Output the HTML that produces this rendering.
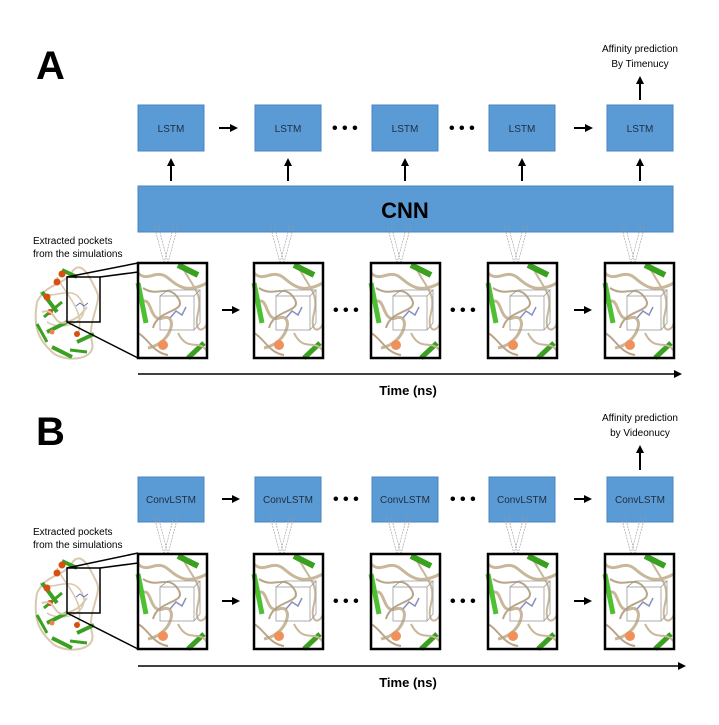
<!DOCTYPE html>
<html><head><meta charset="utf-8"><style>
html,body{margin:0;padding:0;background:#fff}
svg{display:block}
text{font-family:"Liberation Sans",sans-serif}
</style></head><body>
<svg width="719" height="725" viewBox="0 0 719 725" xmlns="http://www.w3.org/2000/svg">
<defs>
<marker id="ah" markerWidth="8" markerHeight="8" refX="6" refY="4" orient="auto" markerUnits="userSpaceOnUse"><path d="M0,0 L8,4 L0,8 z" fill="#000"/></marker>
<g id="frame">
  <rect x="0" y="0" width="69" height="95" fill="#fff"/>
  <path d="M0,10 C10,20 18,5 30,15 S50,30 69,20" stroke="#c9b79a" stroke-width="3" fill="none"/>
  <path d="M2,40 C15,30 10,60 25,55 S35,80 10,85" stroke="#c9b79a" stroke-width="3" fill="none"/>
  <path d="M5,25 C20,35 30,20 40,35 S20,45 15,65" stroke="#b8a588" stroke-width="2" fill="none"/>
  <path d="M45,5 C55,25 65,30 60,50 S66,70 69,60" stroke="#c9b79a" stroke-width="2" fill="none"/>
  <path d="M0,70 C10,75 15,90 30,92" stroke="#b8a588" stroke-width="2" fill="none"/>
  <path d="M40,2 L60,12" stroke="#3aa020" stroke-width="6"/>
  <path d="M0,20 L8,60" stroke="#4cc030" stroke-width="5"/>
  <path d="M50,95 L66,80" stroke="#3aa020" stroke-width="5"/>
  <circle cx="25" cy="82" r="5" fill="#f0905a"/>
  <path d="M40,70 C50,90 60,75 69,88" stroke="#c9b79a" stroke-width="2" fill="none"/>
  <rect x="22" y="33" width="34" height="34" fill="none" stroke="#999" stroke-width="0.8"/>
  <path d="M22,33 L30,27 L62,27 L56,33 M62,27 L62,60 L56,67" fill="none" stroke="#999" stroke-width="0.8"/>
  <path d="M32,55 L38,48 L44,52 L48,44" stroke="#8890c0" stroke-width="1.5" fill="none"/>
  <rect x="0" y="0" width="69" height="95" fill="none" stroke="#000" stroke-width="2.5"/>
</g>
<g id="prot">
  <path d="M5,40 C15,20 30,25 40,10 S60,20 65,30 S55,60 60,80 S30,100 20,90 S0,70 5,40" stroke="#d8c8ae" stroke-width="2" fill="none"/>
  <path d="M8,30 C20,40 40,20 50,40 S30,70 15,60 M25,15 C35,35 55,50 45,75" stroke="#d8c8ae" stroke-width="1.5" fill="none"/>
  <path d="M10,30 L25,50 M15,70 L35,60 M45,80 L62,72 M20,85 L40,95 M30,8 L45,15" stroke="#3aa020" stroke-width="4"/>
  <path d="M12,55 L30,40 M38,88 L55,90 M5,62 L15,80" stroke="#3aa020" stroke-width="3"/>
  <circle cx="30" cy="12" r="3.5" fill="#d85010"/><circle cx="15" cy="35" r="3.5" fill="#d85010"/>
  <circle cx="25" cy="20" r="3.5" fill="#d85010"/><circle cx="45" cy="72" r="3" fill="#d85010"/>
  <circle cx="20" cy="70" r="2.5" fill="#f08050"/><circle cx="18" cy="50" r="3" fill="#d85010"/>
  <path d="M44,44 l4,-3 l4,3 l4,-3" stroke="#6070c0" stroke-width="1" fill="none"/>
  <path d="M10,50 C25,45 20,65 35,60 S50,50 55,45" stroke="#d8c8ae" stroke-width="2" fill="none"/>
</g>
<g id="tri"><path d="M26,0 L16,-38 M26,0 L36,-38 M30,0 L20,-38 M30,0 L40,-38" stroke="#999" stroke-width="0.6" stroke-dasharray="2,1" fill="none"/></g>
</defs>

<!-- A -->
<text x="36" y="79" font-size="40" font-weight="bold">A</text>
<text x="640" y="52" font-size="10" text-anchor="middle">Affinity prediction</text>
<text x="640" y="67" font-size="10" text-anchor="middle">By Timenucy</text>
<line x1="640" y1="100" x2="640" y2="78" stroke="#000" stroke-width="2" marker-end="url(#ah)"/>
<g fill="#5b9bd5" stroke="#4a86c0" stroke-width="1">
<rect x="138" y="105" width="66" height="46"/><rect x="255" y="105" width="66" height="46"/><rect x="372" y="105" width="66" height="46"/><rect x="489" y="105" width="66" height="46"/><rect x="607" y="105" width="66" height="46"/>
<rect x="138" y="186" width="535" height="46"/>
</g>
<g font-size="10" text-anchor="middle" fill="#1f2d3d">
<text x="171" y="132">LSTM</text><text x="288" y="132">LSTM</text><text x="405" y="132">LSTM</text><text x="522" y="132">LSTM</text><text x="640" y="132">LSTM</text>
</g>
<text x="405" y="218" font-size="22" font-weight="bold" text-anchor="middle">CNN</text>
<g stroke="#000" stroke-width="2">
<line x1="219" y1="128" x2="236" y2="128" marker-end="url(#ah)"/>
<line x1="574" y1="128" x2="591" y2="128" marker-end="url(#ah)"/>
<line x1="171" y1="181" x2="171" y2="160" marker-end="url(#ah)"/>
<line x1="288" y1="181" x2="288" y2="160" marker-end="url(#ah)"/>
<line x1="405" y1="181" x2="405" y2="160" marker-end="url(#ah)"/>
<line x1="522" y1="181" x2="522" y2="160" marker-end="url(#ah)"/>
<line x1="640" y1="181" x2="640" y2="160" marker-end="url(#ah)"/>
</g>
<g font-size="16" font-weight="bold"><text x="332" y="133">• • •</text><text x="449" y="133">• • •</text></g>

<text x="33" y="244" font-size="10">Extracted pockets</text>
<text x="33" y="257" font-size="10">from the simulations</text>
<use href="#prot" x="32" y="262"/>
<rect x="67" y="277" width="33" height="45" fill="none" stroke="#000" stroke-width="1.5"/>
<path d="M67,277 L138,263 M100,277 L138,272 M67,322 L138,358" stroke="#000" stroke-width="1.5"/>
<g transform="translate(138,263)"><use href="#tri"/><use href="#frame"/></g>
<g transform="translate(254,263)"><use href="#tri"/><use href="#frame"/></g>
<g transform="translate(371,263)"><use href="#tri"/><use href="#frame"/></g>
<g transform="translate(488,263)"><use href="#tri"/><use href="#frame"/></g>
<g transform="translate(605,263)"><use href="#tri"/><use href="#frame"/></g>
<g stroke="#000" stroke-width="2">
<line x1="222" y1="310" x2="238" y2="310" marker-end="url(#ah)"/>
<line x1="574" y1="310" x2="590" y2="310" marker-end="url(#ah)"/>
<line x1="138" y1="374" x2="680" y2="374" stroke-width="1.5" marker-end="url(#ah)"/>
</g>
<g font-size="16" font-weight="bold"><text x="333" y="315">• • •</text><text x="450" y="315">• • •</text></g>
<text x="408" y="395" font-size="13" font-weight="bold" text-anchor="middle">Time (ns)</text>

<!-- B -->
<text x="36" y="445" font-size="40" font-weight="bold">B</text>
<text x="640" y="421" font-size="10" text-anchor="middle">Affinity prediction</text>
<text x="640" y="436" font-size="10" text-anchor="middle">by Videonucy</text>
<line x1="640" y1="470" x2="640" y2="447" stroke="#000" stroke-width="2" marker-end="url(#ah)"/>
<g fill="#5b9bd5" stroke="#4a86c0" stroke-width="1">
<rect x="138" y="477" width="66" height="45"/><rect x="255" y="477" width="66" height="45"/><rect x="372" y="477" width="66" height="45"/><rect x="489" y="477" width="66" height="45"/><rect x="607" y="477" width="66" height="45"/>
</g>
<g font-size="10" text-anchor="middle" fill="#1f2d3d">
<text x="171" y="503">ConvLSTM</text><text x="288" y="503">ConvLSTM</text><text x="405" y="503">ConvLSTM</text><text x="522" y="503">ConvLSTM</text><text x="640" y="503">ConvLSTM</text>
</g>
<g stroke="#000" stroke-width="2">
<line x1="222" y1="499" x2="238" y2="499" marker-end="url(#ah)"/>
<line x1="574" y1="499" x2="590" y2="499" marker-end="url(#ah)"/>
</g>
<g font-size="16" font-weight="bold"><text x="333" y="504">• • •</text><text x="450" y="504">• • •</text></g>

<text x="33" y="535" font-size="10">Extracted pockets</text>
<text x="33" y="548" font-size="10">from the simulations</text>
<use href="#prot" x="32" y="553"/>
<rect x="67" y="568" width="33" height="45" fill="none" stroke="#000" stroke-width="1.5"/>
<path d="M67,568 L138,553 M100,568 L138,563 M67,613 L138,649" stroke="#000" stroke-width="1.5"/>
<g transform="translate(138,554)"><use href="#tri"/><use href="#frame"/></g>
<g transform="translate(254,554)"><use href="#tri"/><use href="#frame"/></g>
<g transform="translate(371,554)"><use href="#tri"/><use href="#frame"/></g>
<g transform="translate(488,554)"><use href="#tri"/><use href="#frame"/></g>
<g transform="translate(605,554)"><use href="#tri"/><use href="#frame"/></g>
<g stroke="#000" stroke-width="2">
<line x1="222" y1="601" x2="238" y2="601" marker-end="url(#ah)"/>
<line x1="574" y1="601" x2="590" y2="601" marker-end="url(#ah)"/>
<line x1="138" y1="666" x2="684" y2="666" stroke-width="1.5" marker-end="url(#ah)"/>
</g>
<g font-size="16" font-weight="bold"><text x="333" y="606">• • •</text><text x="450" y="606">• • •</text></g>
<text x="408" y="687" font-size="13" font-weight="bold" text-anchor="middle">Time (ns)</text>
</svg>
</body></html>
